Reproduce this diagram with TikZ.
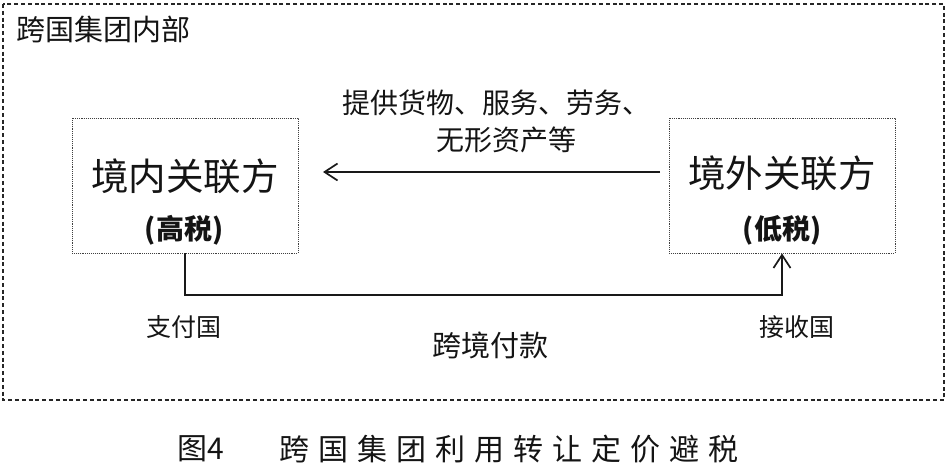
\documentclass[tikz,border=0pt]{standalone}
\usepackage{fontspec}
\setmainfont{Noto Sans CJK SC}
\usetikzlibrary{arrows.meta}
\newcommand{\fs}[1]{\fontsize{#1}{#1}\selectfont}
\tikzset{
  partybox/.style={draw=black!75, densely dotted, line width=0.9pt, minimum width=226pt, minimum height=135pt, inner sep=0pt},
  outerbox/.style={draw=black!85, line width=1.2pt, dash pattern=on 4pt off 2.8pt},
  conn/.style={line width=1.7pt, black!90, -{Straight Barb[length=13pt,width=17pt,line width=1.7pt]}},
  txt/.style={inner sep=0pt, text=black!92},
}
\begin{document}
\begin{tikzpicture}[x=1pt,y=-1pt]
\useasboundingbox (0,0) rectangle (950,465);
\draw[outerbox] (3,4) rectangle (944,400);
\node[txt, anchor=west, font=\fs{29}] (title) at (16,29) {跨国集团内部};

\node[partybox] (a) at (185,185.5) {};
\node[partybox] (b) at (782,185.5) {};

\node[txt, font=\fs{37.5}] (at) at (185,176) {境内关联方};
\node[txt, font=\fs{28}\bfseries] (ab) at (184,230) {(高税)};
\node[txt, font=\fs{37.5}] (bt) at (782,173) {境外关联方};
\node[txt, font=\fs{28}\bfseries] (bb) at (782,230) {(低税)};

\coordinate (r1) at (660,172);
\coordinate (l1) at (323,172);
\draw[conn] (r1) -- (l1);

\coordinate (m) at (185,295);
\draw[conn] (a.south) -- (m) -| (b.south);

\node[txt, font=\fs{28}] (g1) at (496,103) {提供货物、服务、劳务、};
\node[txt, font=\fs{28}] (g2) at (506,140) {无形资产等};

\node[txt, font=\fs{25}] (pay) at (184,327) {支付国};
\node[txt, font=\fs{25}] (rec) at (797,327) {接收国};
\node[txt, font=\fs{29}] (kj) at (490,345) {跨境付款};

\node[txt, anchor=west, font=\fs{30}] (cap1) at (177,449) {图4};
\node[txt, anchor=west, font=\fs{30}] (cap2) at (279,449) {跨\hspace{9pt}国\hspace{9pt}集\hspace{9pt}团\hspace{9pt}利\hspace{9pt}用\hspace{9pt}转\hspace{9pt}让\hspace{9pt}定\hspace{9pt}价\hspace{9pt}避\hspace{9pt}税};
\end{tikzpicture}
\end{document}
